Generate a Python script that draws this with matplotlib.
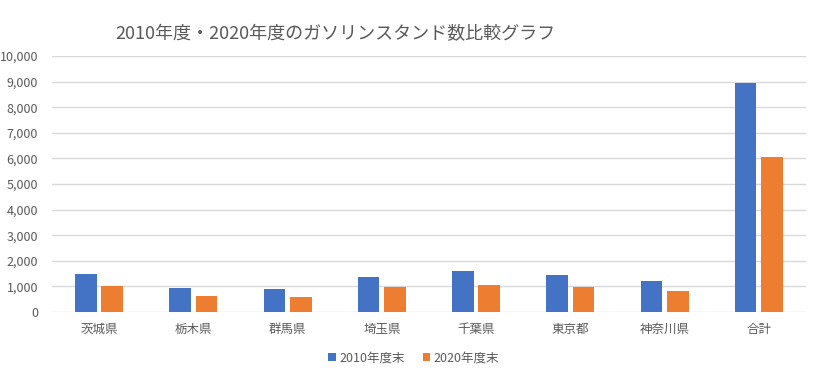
import numpy as np
import matplotlib
matplotlib.use("Agg")
import matplotlib.pyplot as plt
from matplotlib.ticker import FuncFormatter

plt.rcParams['font.family'] = ['Noto Sans CJK JP', 'DejaVu Sans']

# data
prefectures = ["茨城県", "栃木県", "群馬県", "埼玉県", "千葉県", "東京都", "神奈川県", "合計"]
stations_2010 = [1500, 950, 910, 1380, 1615, 1458, 1224, 8957]
stations_2020 = [1030, 637, 598, 990, 1068, 990, 833, 6068]
series_labels = ["2010年度末", "2020年度末"]
title = "2010年度・2020年度のガソリンスタンド数比較グラフ"

BLUE = "#4472C4"
ORANGE = "#ED7D31"
TEXT = "#595959"
GRID = "#D9D9D9"

fig = plt.figure(figsize=(8.19, 3.76), dpi=100)
ax = fig.add_axes([0.0635, 0.170, 0.9205, 0.681])

x = np.arange(len(prefectures))
width = 0.23
gap = 0.05
ax.bar(x - (width + gap) / 2, stations_2010, width, color=BLUE, label=series_labels[0], zorder=3)
ax.bar(x + (width + gap) / 2, stations_2020, width, color=ORANGE, label=series_labels[1], zorder=3)

ax.set_xlim(-0.5, len(prefectures) - 0.5)
ax.set_ylim(0, 10000)
ax.set_yticks(np.arange(0, 10001, 1000))
ax.yaxis.set_major_formatter(FuncFormatter(lambda v, _: f"{int(v):,}"))
ax.set_xticks(x)
ax.set_xticklabels(prefectures)
ax.grid(axis='y', color=GRID, linewidth=1, zorder=0)
for s in ax.spines.values():
    s.set_visible(False)
ax.tick_params(axis='both', length=0, colors=TEXT, labelsize=9)
ax.tick_params(axis='x', pad=8)
ax.tick_params(axis='y', pad=10)

fig.text(0.41, 0.91, title, ha='center', va='center', fontsize=13, color=TEXT)

ax.legend(loc='center', bbox_to_anchor=(0.48, -0.178), ncol=2, frameon=False,
          fontsize=9, labelcolor=TEXT, handlelength=0.6, handleheight=0.6,
          handletextpad=0.3, columnspacing=1.4)

fig.savefig("out.png", dpi=100)
